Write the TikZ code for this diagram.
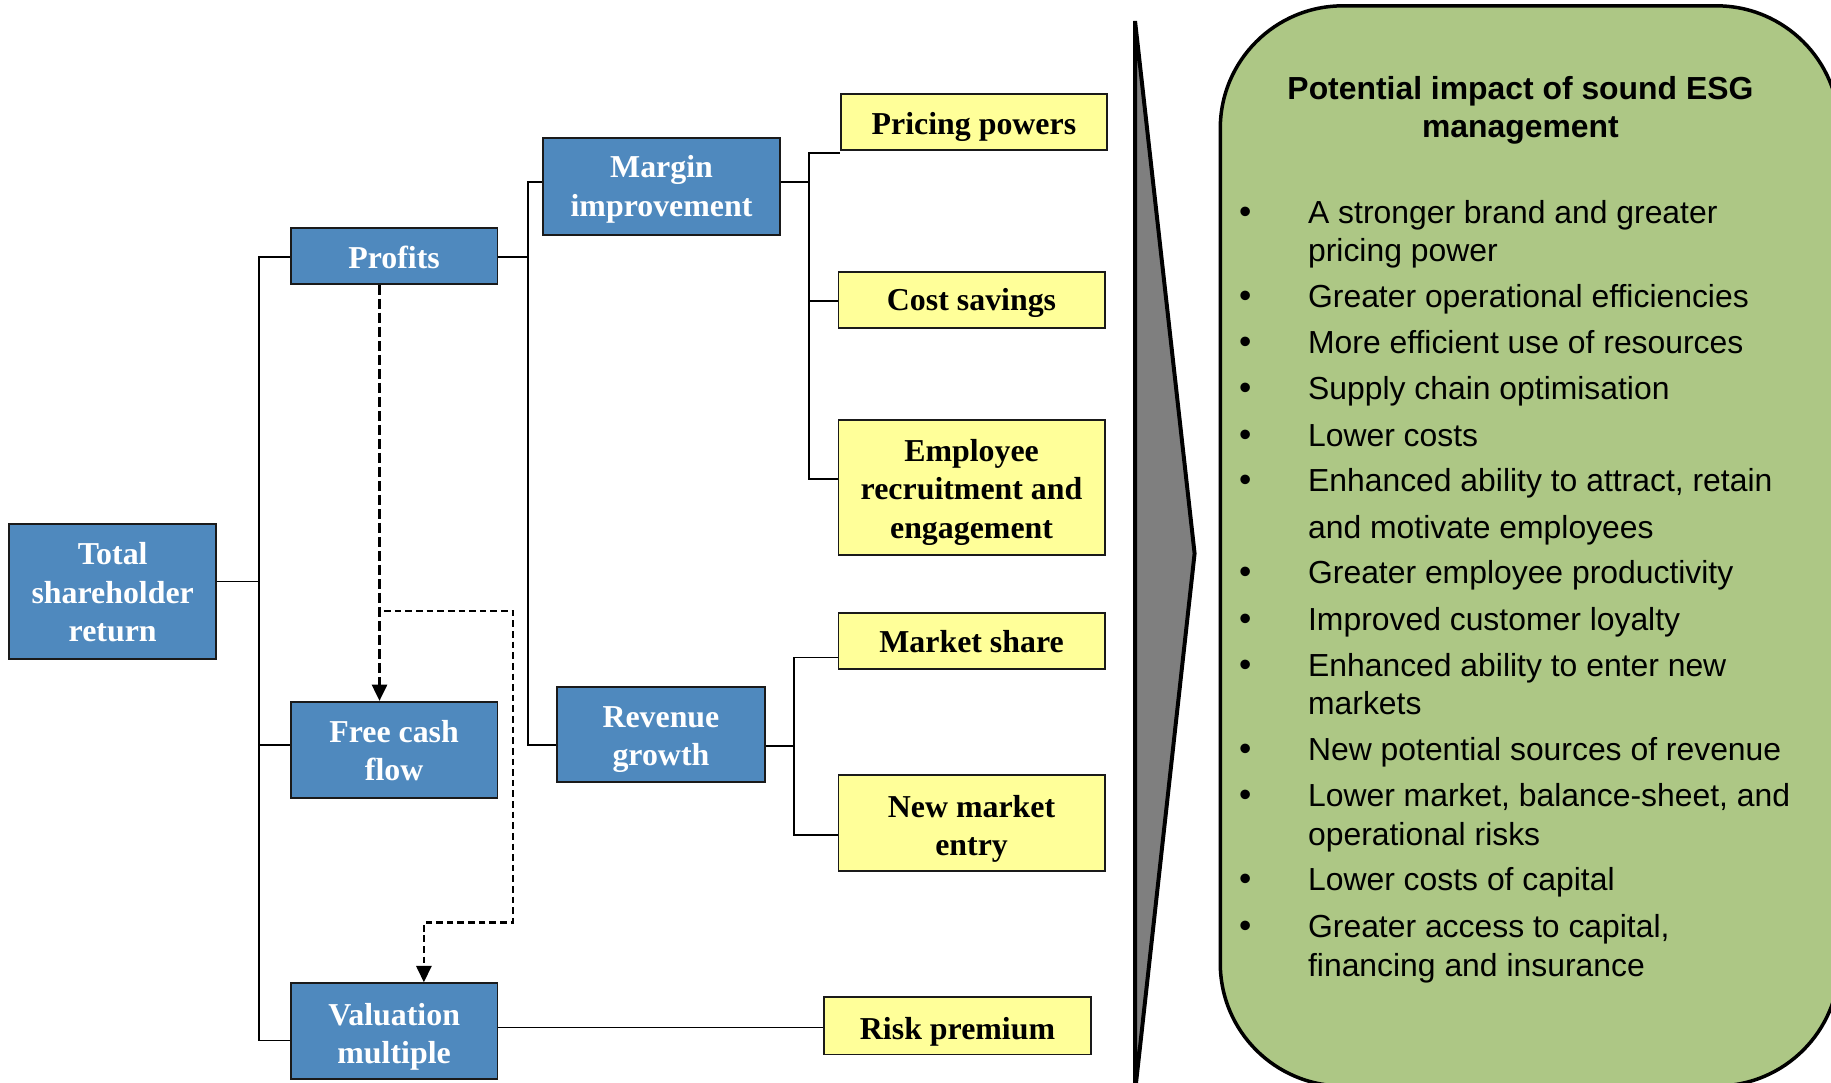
\documentclass[tikz,border=0pt]{standalone}
\usepackage{fontspec}
\setmainfont{Liberation Serif}
\newfontfamily\arialfont{Liberation Sans}
\usetikzlibrary{arrows.meta}
\definecolor{boxblue}{HTML}{4F89BE}
\definecolor{boxyellow}{HTML}{FFFF99}
\definecolor{esggreen}{HTML}{ADC785}
\definecolor{chevgray}{HTML}{7F7F7F}
\definecolor{edgeblack}{HTML}{1A1A1A}
\newcommand{\tsh}[1]{\rule{0pt}{#1}}
\begin{document}
\begin{tikzpicture}[x=1pt,y=-1pt,
  boxtext/.style={font=\bfseries\fontsize{27.3}{33}\selectfont, align=center, inner sep=0pt, draw=edgeblack, line width=1.6pt},
  bluebox/.style={boxtext, fill=boxblue, text=white},
  yellowbox/.style={boxtext, fill=boxyellow, text=black},
  conn/.style={line width=1.4pt, black},
  dconn/.style={line width=1.8pt, black, dash pattern=on 5.7pt off 3.4pt},
  dconnlong/.style={line width=2.2pt, black, dash pattern=on 8.5pt off 3.5pt},
  arr/.style={-{Triangle[length=14pt,width=13pt]}},
  bul/.style={font=\arialfont\fontsize{27.3}{33}\selectfont, anchor=base west, inner sep=0pt},
  ttl/.style={font=\arialfont\bfseries\fontsize{27.3}{33}\selectfont, anchor=base, inner sep=0pt},
]
\useasboundingbox (0,0) rectangle (1568,927);
\fill[white] (0,0) rectangle (1568,927);

% ---------- boxes ----------
\node[bluebox, minimum width=177pt, minimum height=115pt] (tsr) at (96.5,506.5) {\tsh{20.6pt}Total\\shareholder\\return};
\node[bluebox, minimum width=177pt, minimum height=48pt] (profits) at (337.5,219) {\tsh{22.6pt}Profits};
\node[bluebox, minimum width=177pt, minimum height=82pt] (fcf) at (337.5,642) {\tsh{20.6pt}Free cash\\flow};
\node[bluebox, minimum width=177pt, minimum height=82pt] (val) at (337.5,883) {\tsh{28.6pt}Valuation\\multiple};
\node[bluebox, minimum width=203pt, minimum height=83pt] (margin) at (566.5,159.5) {\tsh{24.6pt}Margin\\improvement};
\node[bluebox, minimum width=178pt, minimum height=82pt] (revenue) at (566,629) {\tsh{26.6pt}Revenue\\growth};
\node[yellowbox, minimum width=228pt, minimum height=48pt] (pricing) at (834,104.5) {\tsh{26.6pt}Pricing powers};
\node[yellowbox, minimum width=228pt, minimum height=48pt] (cost) at (832,257) {\tsh{24.6pt}Cost savings};
\node[yellowbox, minimum width=228pt, minimum height=115pt] (employee) at (832,417.5) {\tsh{26.6pt}Employee\\recruitment and\\engagement};
\node[yellowbox, minimum width=228pt, minimum height=48pt] (market) at (832,549) {\tsh{20.6pt}Market share};
\node[yellowbox, minimum width=228pt, minimum height=82pt] (newmarket) at (832,705) {\tsh{28.6pt}New market\\entry};
\node[yellowbox, minimum width=228pt, minimum height=49pt] (risk) at (820,878.5) {\tsh{28.6pt}Risk premium};

% ---------- tree connectors ----------
\coordinate (ja) at (222,498);
\coordinate (jb) at (452,220);
\coordinate (jc) at (693,156);
\coordinate (jd) at (680,639);
\draw[conn] (tsr.east |- ja) -- (ja);
\draw[conn] (profits.west |- 0,220) -| (ja |- 0,891) -- (val.west |- 0,891);
\draw[conn] (fcf.west |- 0,638) -- (ja |- 0,638);
\draw[conn] (profits.east |- jb) -- (jb);
\draw[conn] (margin.west |- 0,156) -| (jb |- 0,638) -- (revenue.west |- 0,638);
\draw[conn] (margin.east |- jc) -- (jc);
\draw[conn] (pricing.west |- 0,131) -| (jc |- 0,410) -- (employee.west |- 0,410);
\draw[conn] (cost.west |- 0,258) -- (jc |- 0,258);
\draw[conn] (revenue.east |- jd) -- (jd);
\draw[conn] (market.west |- 0,563) -| (jd |- 0,715) -- (newmarket.west |- 0,715);
\draw[conn] (val.east |- 0,880) -- (risk.west |- 0,880);

% ---------- dashed arrows ----------
\coordinate (dx1) at (325,0);
\draw[dconnlong, arr] (profits.south -| dx1) -- (fcf.north -| dx1);
\coordinate (d0) at (329,523);
\coordinate (dA) at (439,523);
\coordinate (dB) at (439,790);
\coordinate (dC) at (363,790);
\draw[dconn, arr] (d0) -- (dA) -- (dB) -- (dC) -- (val.north -| dC);

% ---------- chevron ----------
\draw[fill=chevgray, line width=3.4pt, line join=miter, miter limit=10] (972,18) -- (1023,474) -- (972,935) -- cycle;

% ---------- green panel ----------
\begin{scope}
\clip (0,0) rectangle (1568,927);
\draw[fill=esggreen, line width=3pt, rounded corners=105pt] (1045,5) rectangle (1575,930);
\end{scope}

\node[ttl] (t1) at (1302,85) {Potential impact of sound ESG};
\node[ttl] (t2) at (1302,118) {management};

\foreach \yy in {191,263,303,342,382,421,500,540,579,651,691,763,803}
  \node[bul, font=\arialfont\fontsize{30}{33}\selectfont] at (1061,\yy) {•};

\node[bul] (l1) at (1120,191) {A stronger brand and greater};
\node[bul] (l2) at (1120,224) {pricing power};
\node[bul] (l3) at (1120,263) {Greater operational efficiencies};
\node[bul] (l4) at (1120,303) {More efficient use of resources};
\node[bul] (l5) at (1120,342) {Supply chain optimisation};
\node[bul] (l6) at (1120,382) {Lower costs};
\node[bul] (l7) at (1120,421) {Enhanced ability to attract, retain};
\node[bul] (l8) at (1120,461) {and motivate employees};
\node[bul] (l9) at (1120,500) {Greater employee productivity};
\node[bul] (l10) at (1120,540) {Improved customer loyalty};
\node[bul] (l11) at (1120,579) {Enhanced ability to enter new};
\node[bul] (l12) at (1120,612) {markets};
\node[bul] (l13) at (1120,651) {New potential sources of revenue};
\node[bul] (l14) at (1120,691) {Lower market, balance-sheet, and};
\node[bul] (l15) at (1120,724) {operational risks};
\node[bul] (l16) at (1120,763) {Lower costs of capital};
\node[bul] (l17) at (1120,803) {Greater access to capital,};
\node[bul] (l18) at (1120,836) {financing and insurance};
\end{tikzpicture}
\end{document}
